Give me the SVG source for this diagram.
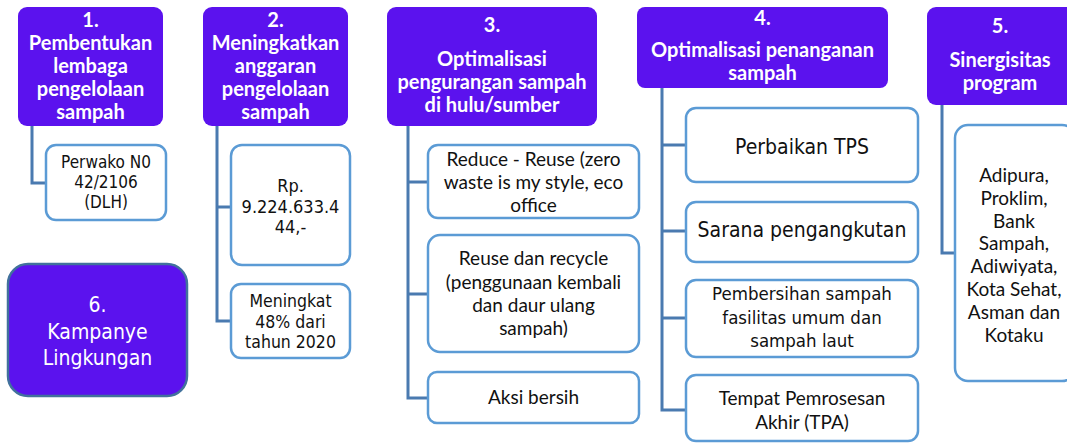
<svg xmlns="http://www.w3.org/2000/svg" width="1067" height="443" viewBox="0 0 1067 443">
<style>
.hdr{fill:#5B12EE;}
.hdr-t{font-family:Lato,"Open Sans",sans-serif;font-weight:bold;font-size:20px;fill:#ffffff;text-anchor:middle;}
.box{fill:#ffffff;stroke:#5B9BD5;stroke-width:2.5;}
.tah{font-family:"DejaVu Sans","Noto Sans",sans-serif;font-stretch:condensed;fill:#111111;text-anchor:middle;}
.cal{font-family:Lato,"Open Sans",sans-serif;font-size:19px;fill:#111111;text-anchor:middle;}
.conn{fill:none;stroke:#4A7AB0;stroke-width:3;}
</style>
<rect width="1067" height="443" fill="#ffffff"/>
<g id="connectors">
<path class="conn" d="M32,126 V183 H46"/>
<path class="conn" d="M217,126 V321 H231 M217,207 H231"/>
<path class="conn" d="M408,126 V398 H428 M408,182 H428 M408,294 H428"/>
<path class="conn" d="M662,88 V410 H686 M662,145 H686 M662,231 H686 M662,318 H686"/>
<path class="conn" d="M942,105 V253 H955"/>
</g>
<g id="n1">
<rect class="hdr" x="18" y="7" width="145" height="119" rx="9"/>
<text class="hdr-t" x="90.5"><tspan x="90.5" y="27">1.</tspan><tspan x="90.5" y="50">Pembentukan</tspan><tspan x="90.5" y="73">lembaga</tspan><tspan x="90.5" y="96">pengelolaan</tspan><tspan x="90.5" y="119">sampah</tspan></text>
</g>
<g id="n1a">
<rect class="box" x="46" y="145" width="120" height="75" rx="10"/>
<text class="tah" font-size="17"><tspan x="106" y="168">Perwako N0</tspan><tspan x="106" y="188">42/2106</tspan><tspan x="106" y="208">(DLH)</tspan></text>
</g>
<g id="n2">
<rect class="hdr" x="203" y="7" width="145" height="119" rx="9"/>
<text class="hdr-t"><tspan x="275.5" y="27">2.</tspan><tspan x="275.5" y="50">Meningkatkan</tspan><tspan x="275.5" y="73">anggaran</tspan><tspan x="275.5" y="96">pengelolaan</tspan><tspan x="275.5" y="119">sampah</tspan></text>
</g>
<g id="n2a">
<rect class="box" x="231" y="145" width="119" height="120" rx="11"/>
<text class="tah" font-size="18"><tspan x="290.5" y="192">Rp.</tspan><tspan x="290.5" y="212.5">9.224.633.4</tspan><tspan x="290.5" y="233">44,-</tspan></text>
</g>
<g id="n2b">
<rect class="box" x="231" y="284" width="119" height="74" rx="10"/>
<text class="tah" font-size="17.5"><tspan x="290.5" y="307">Meningkat</tspan><tspan x="290.5" y="327.5">48% dari</tspan><tspan x="290.5" y="348">tahun 2020</tspan></text>
</g>
<g id="n6">
<rect x="8" y="264" width="179" height="132" rx="20" fill="#5B12EE" stroke="#41719C" stroke-width="2.5"/>
<text class="tah" font-size="21" style="fill:#ffffff"><tspan x="97.5" y="312">6.</tspan><tspan x="97.5" y="339">Kampanye</tspan><tspan x="97.5" y="365">Lingkungan</tspan></text>
</g>
<g id="n3">
<rect class="hdr" x="387" y="7" width="210" height="119" rx="9"/>
<text class="hdr-t"><tspan x="492" y="32">3.</tspan><tspan x="492" y="66">Optimalisasi</tspan><tspan x="492" y="89">pengurangan sampah</tspan><tspan x="492" y="112">di hulu/sumber</tspan></text>
</g>
<g id="n3a">
<rect class="box" x="428" y="145" width="211" height="73" rx="10"/>
<text class="cal"><tspan x="533.5" y="166">Reduce - Reuse (zero</tspan><tspan x="533.5" y="189">waste is my style, eco</tspan><tspan x="533.5" y="212">office</tspan></text>
</g>
<g id="n3b">
<rect class="box" x="428" y="235" width="211" height="117" rx="12"/>
<text class="cal"><tspan x="533.5" y="265">Reuse dan recycle</tspan><tspan x="533.5" y="288.5">(penggunaan kembali</tspan><tspan x="533.5" y="312">dan daur ulang</tspan><tspan x="533.5" y="335">sampah)</tspan></text>
</g>
<g id="n3c">
<rect class="box" x="428" y="372" width="211" height="51" rx="9"/>
<text class="cal" x="533.5" y="404">Aksi bersih</text>
</g>
<g id="n4">
<rect class="hdr" x="637" y="7" width="251" height="81" rx="8"/>
<text class="hdr-t"><tspan x="762.5" y="25">4.</tspan><tspan x="762.5" y="57">Optimalisasi penanganan</tspan><tspan x="762.5" y="80">sampah</tspan></text>
</g>
<g id="n4a">
<rect class="box" x="686" y="108" width="232" height="74" rx="10"/>
<text class="tah" font-size="21" x="802" y="154">Perbaikan TPS</text>
</g>
<g id="n4b">
<rect class="box" x="686" y="202" width="232" height="60" rx="10"/>
<text class="tah" font-size="21" x="802" y="237">Sarana pengangkutan</text>
</g>
<g id="n4c">
<rect class="box" x="686" y="280" width="232" height="77" rx="10"/>
<text class="tah" font-size="18.5"><tspan x="802" y="300">Pembersihan sampah</tspan><tspan x="802" y="324">fasilitas umum dan</tspan><tspan x="802" y="347">sampah laut</tspan></text>
</g>
<g id="n4d">
<rect class="box" x="686" y="375" width="232" height="66" rx="10"/>
<text class="cal"><tspan x="802" y="405">Tempat Pemrosesan</tspan><tspan x="802" y="429">Akhir (TPA)</tspan></text>
</g>
<g id="n5">
<rect class="hdr" x="927" y="7" width="148" height="98" rx="9"/>
<text class="hdr-t"><tspan x="1000" y="33">5.</tspan><tspan x="1000" y="67">Sinergisitas</tspan><tspan x="1000" y="90">program</tspan></text>
</g>
<g id="n5a">
<rect class="box" x="955" y="125" width="120" height="256" rx="13"/>
<text class="cal"><tspan x="1014" y="182">Adipura,</tspan><tspan x="1014" y="205">Proklim,</tspan><tspan x="1014" y="228">Bank</tspan><tspan x="1014" y="250">Sampah,</tspan><tspan x="1014" y="273">Adiwiyata,</tspan><tspan x="1014" y="296">Kota Sehat,</tspan><tspan x="1014" y="319">Asman dan</tspan><tspan x="1014" y="342">Kotaku</tspan></text>
</g>
</svg>
